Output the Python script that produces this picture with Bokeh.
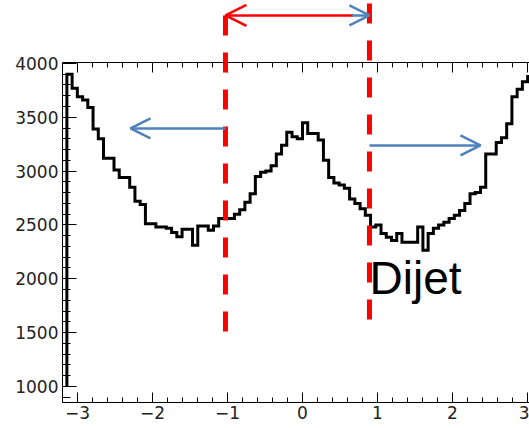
import numpy as np
from bokeh.plotting import figure
from bokeh.models import LinearAxis, SingleIntervalTicker, Range1d, Arrow, OpenHead, Label
from bokeh.embed import file_html
from bokeh.resources import INLINE

# ---- data ----
n_bins = 90
phi_lo, phi_hi = -np.pi, np.pi
hist_floor = 1000
counts = [3900, 3770, 3690, 3660, 3590, 3390, 3300, 3120, 3120, 3010,
          2940, 2940, 2850, 2720, 2690, 2510, 2510, 2480, 2480, 2470,
          2430, 2390, 2460, 2460, 2310, 2490, 2490, 2450, 2490, 2560,
          2560, 2560, 2600, 2640, 2710, 2790, 2950, 2990, 3000, 3050,
          3160, 3240, 3360, 3320, 3300, 3450, 3350, 3350, 3290, 3100,
          2940, 2890, 2870, 2840, 2740, 2700, 2650, 2590, 2480, 2500,
          2420, 2385, 2355, 2420, 2340, 2340, 2340, 2480, 2265, 2420,
          2470, 2500, 2525, 2560, 2590, 2635, 2700, 2790, 2800, 2850,
          3160, 3160, 3265, 3310, 3440, 3690, 3760, 3830, 3880, 3900]
x_axis_min, x_axis_max = -3.2, 3.027
y_axis_min, y_axis_max = 850, 4009
x_major_step = 1
x_minor_step = 0.2
y_major_step = 500
dijet_text = "Dijet"

# ---- figure (frame extends to the top so the overlays above the plot box show) ----
PX_PER_Y = (y_axis_max - y_axis_min) / 340.0       # data units per pixel, vertical
top_extra = 62 * PX_PER_Y
p = figure(width=529, height=428, output_backend="svg", toolbar_location=None,
           x_range=Range1d(x_axis_min, x_axis_max),
           y_range=Range1d(y_axis_min, y_axis_max + top_extra),
           x_axis_location=None, y_axis_location=None,
           min_border_left=62, min_border_top=0, min_border_bottom=26, min_border_right=0)
p.outline_line_color = None
p.background_fill_color = "white"
p.border_fill_color = "white"
p.grid.visible = False
p.xgrid.grid_line_color = None
p.ygrid.grid_line_color = None

LABEL_FONT = "DejaVu Sans"
TEXT_FONT = "Liberation Sans"

def style_axis(ax, tin, mtin, standoff):
    ax.axis_line_color = "black"
    ax.axis_line_width = 1
    ax.major_tick_in = tin
    ax.major_tick_out = 0
    ax.minor_tick_in = mtin
    ax.minor_tick_out = 0
    ax.major_tick_line_color = "black"
    ax.minor_tick_line_color = "black"
    ax.major_label_text_font = LABEL_FONT
    ax.major_label_text_font_size = "17px"
    ax.major_label_text_color = "#222222"
    ax.major_label_standoff = standoff

xb = LinearAxis(ticker=SingleIntervalTicker(interval=x_major_step, num_minor_ticks=5))
style_axis(xb, 10, 5, 3)
p.add_layout(xb, "below")

yl = LinearAxis(ticker=SingleIntervalTicker(interval=y_major_step, num_minor_ticks=5),
                bounds=(y_axis_min, y_axis_max))
style_axis(yl, 14, 8, 4)
p.add_layout(yl, "left")

# top edge of the plot box with its inward ticks
major_x = np.arange(np.ceil(x_axis_min), x_axis_max + 1e-9, x_major_step)
minor_x = np.round(np.arange(x_axis_min, x_axis_max + 1e-9, x_minor_step), 6)
minor_x = np.array([v for v in minor_x if abs(v - round(v)) > 1e-6])
p.segment(x0=[x_axis_min], y0=[y_axis_max], x1=[x_axis_max], y1=[y_axis_max],
          line_color="black", line_width=1)
p.segment(x0=major_x, y0=[y_axis_max] * len(major_x), x1=major_x,
          y1=[y_axis_max - 10 * PX_PER_Y] * len(major_x), line_color="black", line_width=1)
p.segment(x0=minor_x, y0=[y_axis_max] * len(minor_x), x1=minor_x,
          y1=[y_axis_max - 5 * PX_PER_Y] * len(minor_x), line_color="black", line_width=1)

# ---- histogram outline ----
edges = np.linspace(phi_lo, phi_hi, n_bins + 1)
xs = np.repeat(edges, 2)
ys = np.concatenate([[hist_floor], np.repeat(counts, 2), [hist_floor]])
p.line(xs, ys, line_color="black", line_width=3, line_join="miter")

# ---- overlays ----
RED = "#FF0000"
BLUE = "#4F81BD"
x_left_cut, x_right_cut = -1.027, 0.893

p.segment(x0=[x_left_cut, x_right_cut], y0=[4446, 4557],
          x1=[x_left_cut, x_right_cut], y1=[1473, 1593],
          line_color=RED, line_width=5, line_dash="20 17", line_cap="butt")

p.add_layout(Arrow(x_start=0.68, y_start=4446, x_end=x_left_cut, y_end=4446,
                   start=None,
                   end=OpenHead(size=21, line_color=RED, line_width=2.5),
                   line_color=RED, line_width=2.5))
p.add_layout(Arrow(x_start=0.66, y_start=4446, x_end=x_right_cut, y_end=4446,
                   start=None,
                   end=OpenHead(size=20, line_color=BLUE, line_width=2.5),
                   line_color=BLUE, line_width=2.5))

p.add_layout(Arrow(x_start=x_left_cut, y_start=3396, x_end=-2.293, y_end=3396,
                   end=OpenHead(size=20, line_color=BLUE, line_width=2.5),
                   line_color=BLUE, line_width=2.5))
p.add_layout(Arrow(x_start=x_right_cut, y_start=3238, x_end=2.373, y_end=3238,
                   end=OpenHead(size=20, line_color=BLUE, line_width=2.5),
                   line_color=BLUE, line_width=2.5))

p.add_layout(Label(x=0.895, y=2010, text=dijet_text, text_font=TEXT_FONT,
                   text_font_size="46px", text_color="black", text_baseline="alphabetic"))

open("out.html", "w").write(file_html(p, INLINE))
